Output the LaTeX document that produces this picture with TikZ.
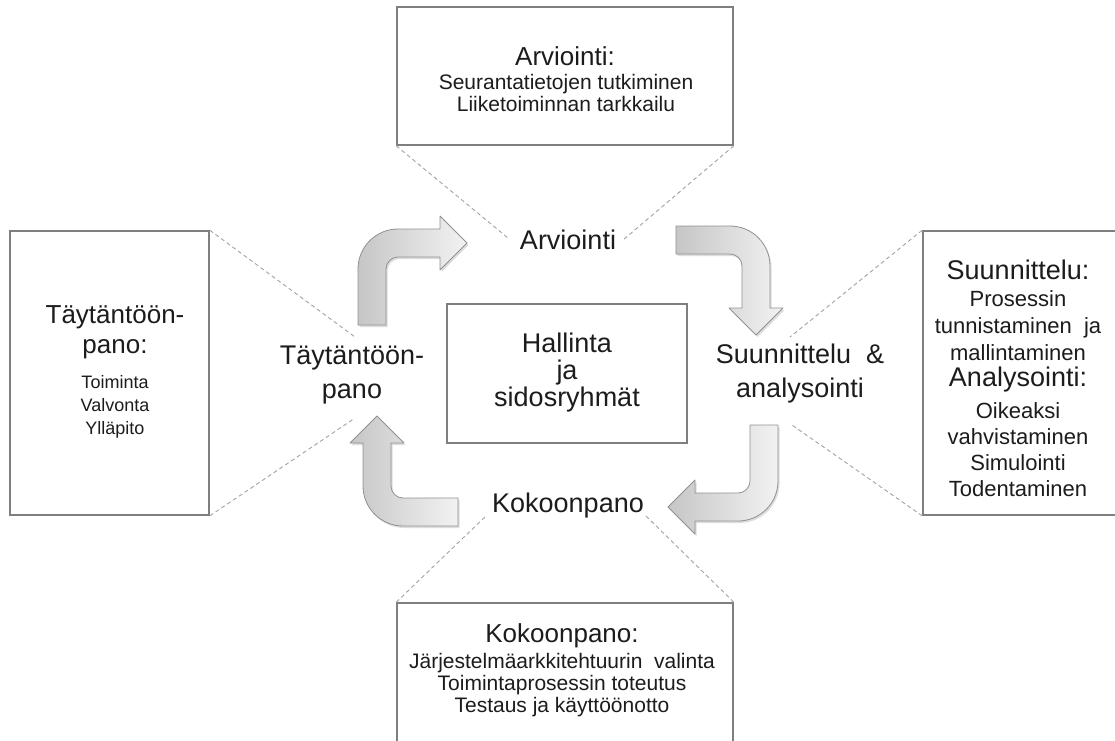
\documentclass[tikz,border=0pt]{standalone}
\usepackage{fontspec}
\setmainfont{Liberation Sans}
\usetikzlibrary{shadows}

\definecolor{boxline}{HTML}{7F7F7F}
\definecolor{dashline}{HTML}{A3A3A3}
\definecolor{arrowline}{HTML}{919191}
\definecolor{arrowdark}{HTML}{C6C6C6}
\definecolor{arrowlight}{HTML}{F2F2F2}
\definecolor{txt}{HTML}{1C1C1C}

\tikzset{
  panel/.style={draw=boxline, line width=1.6pt, fill=white, inner sep=0pt},
  hub/.style={draw=boxline, line width=1.4pt, fill=white, inner sep=0pt},
  guide/.style={draw=dashline, line width=0.9pt, dash pattern=on 4pt off 3pt},
  bentarrow/.style={draw=arrowline, line width=0.8pt, line join=round,
    left color=arrowdark, right color=arrowlight,
    drop shadow={shadow xshift=1.5pt, shadow yshift=-2pt, opacity=0.22, fill=black!60}},
  phase/.style={font=\fontsize{27}{34}\selectfont, text=txt, align=center, inner sep=1pt},
  boxhead/.style={font=\fontsize{26}{30}\selectfont, text=txt, align=center, inner sep=0pt},
  boxbody/.style={font=\fontsize{21}{22}\selectfont, text=txt, align=center, inner sep=0pt},
}

\begin{document}
\begin{tikzpicture}[x=1pt, y=-1pt]
\useasboundingbox (0,0) rectangle (1115,740);
\clip (0,0) rectangle (1115,740);
\fill[white] (0,0) rectangle (1115,740);

% ---------- outer description boxes ----------
\node[panel, minimum width=336pt, minimum height=138pt] (evalbox)  at (565,76) {};
\node[panel, minimum width=199pt, minimum height=284pt] (implbox)  at (109.5,373) {};
\node[panel, minimum width=212pt, minimum height=284pt] (planbox)  at (1029,373) {};
\node[panel, minimum width=336pt, minimum height=160pt] (buildbox) at (565,683) {};

% ---------- central box ----------
\node[hub, minimum width=240pt, minimum height=139pt] (hubbox) at (567,373.5) {};
\node[phase, font=\fontsize{27}{27}\selectfont] (hubtext) at (567,373) {Hallinta\\ja\\sidosryhmät};

% ---------- phase labels around the cycle ----------
\node[phase] (evallbl)  at (568,240) {Arviointi};
\node[phase] (impllbl)  at (352,375) {Täytäntöön-\\pano};
\node[phase] (planlbl)  at (800,374) {Suunnittelu~~\&\\analysointi};
\node[phase] (buildlbl) at (568,506) {Kokoonpano};

% ---------- texts inside the description boxes ----------
\node[boxhead] (evalhead) at (565,56) {Arviointi:};
\node[boxbody] (evalbody) at (566,93) {Seurantatietojen tutkiminen\\Liiketoiminnan tarkkailu};

\node[boxhead] (implhead) at (115,332) {Täytäntöön-\\pano:};
\node[boxbody, font=\fontsize{18}{23}\selectfont] (implbody) at (115,406.5) {Toiminta\\Valvonta\\Ylläpito};

\node[boxhead, font=\fontsize{27}{30}\selectfont] (planhead) at (1018,270) {Suunnittelu:};
\node[boxbody, font=\fontsize{22}{27}\selectfont] (planbody) at (1018,326) {Prosessin\\tunnistaminen~~ja\\mallintaminen};
\node[boxhead, font=\fontsize{27}{30}\selectfont] (anlhead) at (1018,380) {Analysointi:};
\node[boxbody, font=\fontsize{22}{26}\selectfont] (anlbody) at (1018,450) {Oikeaksi\\vahvistaminen\\Simulointi\\Todentaminen};

\node[boxhead] (buildhead) at (562,636) {Kokoonpano:};
\node[boxbody] (buildbody) at (562,685) {Järjestelmäarkkitehtuurin~~valinta\\Toimintaprosessin toteutus\\Testaus ja käyttöönotto};

% ---------- dashed leaders from the boxes to the labels ----------
\coordinate (evalL)  at (508,238);
\coordinate (evalR)  at (623,240);
\coordinate (implT)  at (355,337);
\coordinate (implB)  at (355,418);
\coordinate (planT)  at (790,337);
\coordinate (planB)  at (792,425);
\coordinate (buildL) at (487,515);
\coordinate (buildR) at (645,515);

\draw[guide] (evalbox.south west) -- (evalL);
\draw[guide] (evalbox.south east) -- (evalR);
\draw[guide] (implbox.north east) -- (implT);
\draw[guide] (implbox.south east) -- (implB);
\draw[guide] (planbox.north west) -- (planT);
\draw[guide] (planbox.south west) -- (planB);
\draw[guide] (buildbox.north west) -- (buildL);
\draw[guide] (buildbox.north east) -- (buildR);

% ---------- bent block arrows of the cycle ----------
% up, then right towards the evaluation
\path[bentarrow] (358,325) -- (358,269)
  .. controls (358,246.9) and (375.9,229) .. (398,229)
  -- (440,229) -- (440,216) -- (467,243) -- (440,270) -- (440,257) -- (398,257)
  .. controls (391.4,257) and (386,262.4) .. (386,269) -- (386,325) -- cycle;

% right, then down towards planning
\path[bentarrow] (676,226) -- (730,226)
  .. controls (752.1,226) and (770,243.9) .. (770,266)
  -- (770,308) -- (783,308) -- (756,335) -- (729,308) -- (742,308) -- (742,266)
  .. controls (742,259.4) and (736.6,254) .. (730,254) -- (676,254) -- cycle;

% down, then left towards the build phase
\path[bentarrow] (750,425) -- (778,425) -- (778,481)
  .. controls (778,503.1) and (760.1,521) .. (738,521)
  -- (695,521) -- (695,534) -- (668,507) -- (695,480) -- (695,493) -- (738,493)
  .. controls (744.6,493) and (750,487.6) .. (750,481) -- cycle;

% left, then up towards implementation
\path[bentarrow] (458,526) -- (403,526)
  .. controls (380.9,526) and (363,508.1) .. (363,486)
  -- (363,443) -- (350,443) -- (377,416) -- (404,443) -- (391,443) -- (391,486)
  .. controls (391,492.6) and (396.4,498) .. (403,498) -- (458,498) -- cycle;
\end{tikzpicture}
\end{document}
